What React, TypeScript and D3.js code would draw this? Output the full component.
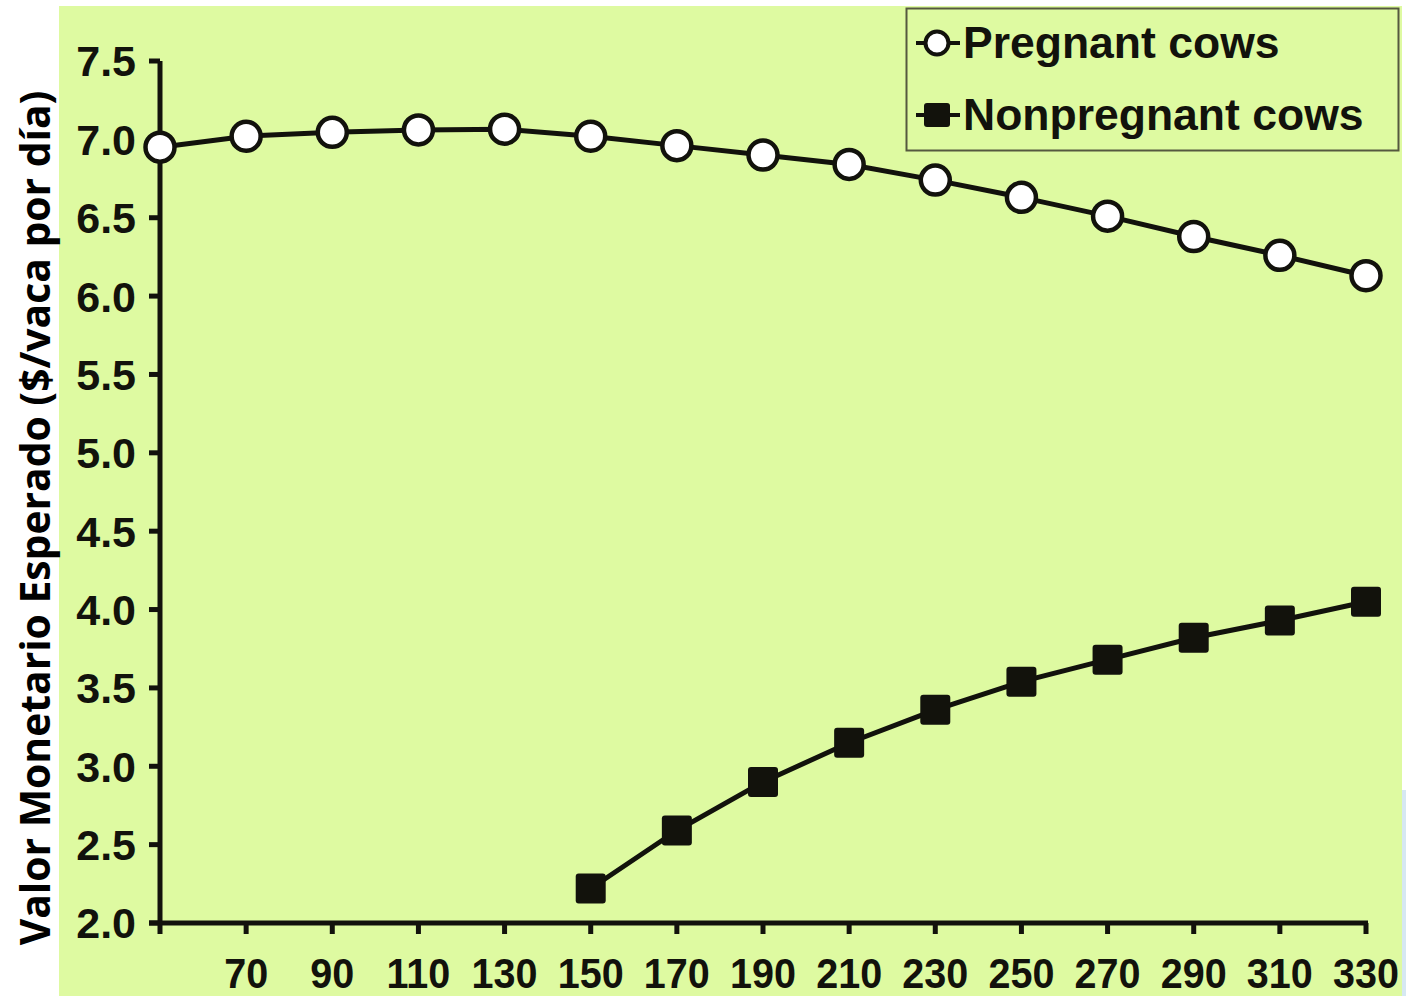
import React from "react";
import * as d3 from "d3";

// Days in milk (x) and expected value ($/cow per day)
const days = [50, 70, 90, 110, 130, 150, 170, 190, 210, 230, 250, 270, 290, 310, 330];
const pregnantValues = [6.95, 7.02, 7.045, 7.06, 7.065, 7.02, 6.96, 6.9, 6.84, 6.74, 6.63, 6.51, 6.38, 6.26, 6.13];
const nonpregnantDays = [150, 170, 190, 210, 230, 250, 270, 290, 310, 330];
const nonpregnantValues = [2.22, 2.59, 2.9, 3.15, 3.36, 3.54, 3.68, 3.82, 3.93, 4.05];
const yTicks = [2.0, 2.5, 3.0, 3.5, 4.0, 4.5, 5.0, 5.5, 6.0, 6.5, 7.0, 7.5];
const xTickLabels = [70, 90, 110, 130, 150, 170, 190, 210, 230, 250, 270, 290, 310, 330];
const legendLabels = ["Pregnant cows", "Nonpregnant cows"];
const yTitle = "Valor Monetario Esperado ($/vaca por día)";

const W = 1406;
const H = 996;
const INK = "#12120c";
const BG = "#defaa1";
const TICK_FONT = "'Liberation Sans', Arial, sans-serif";

export default function App() {
  const x = d3.scaleLinear().domain([50, 330]).range([160, 1366]);
  const y = d3.scaleLinear().domain([2.0, 7.5]).range([923, 61]);

  const line = d3
    .line<[number, number]>()
    .x((d) => x(d[0]))
    .y((d) => y(d[1]));

  const preg: [number, number][] = days.map((d, i) => [d, pregnantValues[i]]);
  const nonpreg: [number, number][] = nonpregnantDays.map((d, i) => [d, nonpregnantValues[i]]);

  const sq = 30;
  const r = 14.5;

  return (
    <svg
      width={W}
      height={H}
      viewBox={`0 0 ${W} ${H}`}
      style={{ position: "absolute", left: 0, top: 0, display: "block" }}
    >
      <rect x={0} y={0} width={W} height={H} fill="#ffffff" />
      <rect x={1402} y={790} width={4} height={206} fill="#d6e8f2" />
      <rect x={59} y={6} width={1343} height={990} fill={BG} />

      {/* y axis */}
      <line x1={x(50)} x2={x(50)} y1={y(7.5)} y2={y(2.0) + 2} stroke={INK} strokeWidth={5} />
      {yTicks.map((t) => (
        <g key={`yt${t}`}>
          <line x1={x(50) - 11} x2={x(50)} y1={y(t)} y2={y(t)} stroke={INK} strokeWidth={5} />
          <text
            x={136}
            y={y(t)}
            dy="0.36em"
            textAnchor="end"
            fontFamily={TICK_FONT}
            fontWeight="bold"
            fontSize={43}
            fill={INK}
          >
            {t.toFixed(1)}
          </text>
        </g>
      ))}

      {/* x axis */}
      <line x1={x(50) - 11} x2={x(330) + 2} y1={y(2.0)} y2={y(2.0)} stroke={INK} strokeWidth={5} />
      {[50, ...xTickLabels].map((t) => (
        <line key={`xt${t}`} x1={x(t)} x2={x(t)} y1={y(2.0)} y2={y(2.0) + 11} stroke={INK} strokeWidth={5} />
      ))}
      {xTickLabels.map((t) => (
        <g key={`xl${t}`} transform={`translate(${x(t)}, 988) scale(0.92, 1)`}>
          <text
            x={0}
            y={0}
            textAnchor="middle"
            fontFamily={TICK_FONT}
            fontWeight="bold"
            fontSize={43}
            fill={INK}
          >
            {t}
          </text>
        </g>
      ))}

      {/* series lines */}
      <path d={line(preg) ?? ""} fill="none" stroke={INK} strokeWidth={5} />
      <path d={line(nonpreg) ?? ""} fill="none" stroke={INK} strokeWidth={5} />

      {preg.map((d, i) => (
        <circle key={`p${i}`} cx={x(d[0])} cy={y(d[1])} r={r} fill="#ffffff" stroke={INK} strokeWidth={4.5} />
      ))}
      {nonpreg.map((d, i) => (
        <rect
          key={`n${i}`}
          x={x(d[0]) - sq / 2}
          y={y(d[1]) - sq / 2}
          width={sq}
          height={sq}
          rx={3}
          fill={INK}
        />
      ))}

      {/* legend */}
      <rect x={906.5} y={8.5} width={492} height={142} fill="none" stroke="#55583f" strokeWidth={2} />
      <g>
        <line x1={916} x2={960} y1={43} y2={43} stroke={INK} strokeWidth={4} />
        <circle cx={937} cy={43} r={11.5} fill="#ffffff" stroke={INK} strokeWidth={4} />
        <text x={963} y={58} fontFamily={TICK_FONT} fontWeight="bold" fontSize={44.5} fill={INK}>
          {legendLabels[0]}
        </text>
      </g>
      <g>
        <line x1={916} x2={960} y1={115} y2={115} stroke={INK} strokeWidth={4} />
        <rect x={924} y={103} width={26} height={24} rx={3} fill={INK} />
        <text x={963} y={130} fontFamily={TICK_FONT} fontWeight="bold" fontSize={44.5} fill={INK}>
          {legendLabels[1]}
        </text>
      </g>

      {/* y title */}
      <text
        transform={`translate(50, 518) rotate(-90)`}
        textAnchor="middle"
        fontFamily="'Open Sans', 'Noto Sans', sans-serif"
        fontWeight="bold"
        fontSize={40.8}
        fill="#000000"
      >
        {yTitle}
      </text>
    </svg>
  );
}
